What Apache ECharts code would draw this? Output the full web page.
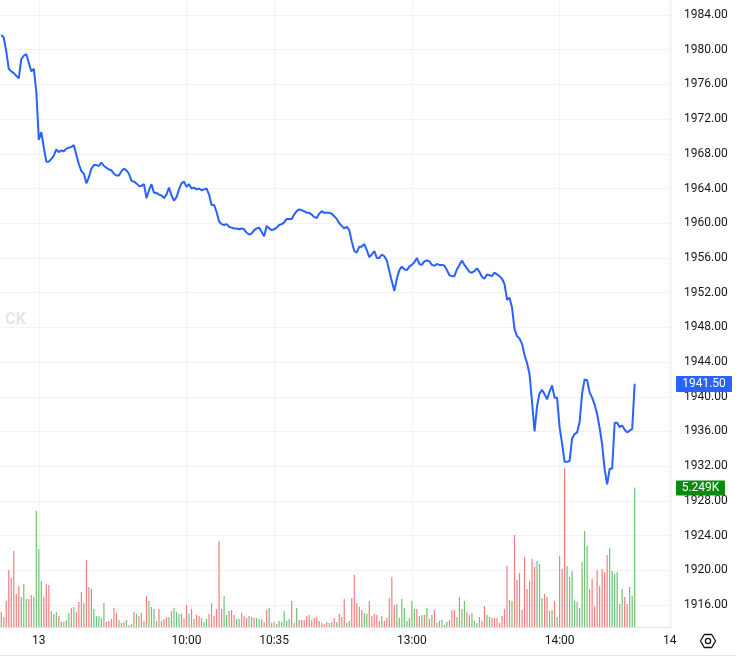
<!DOCTYPE html>
<html><head><meta charset="utf-8">
<script src="https://cdn.jsdelivr.net/npm/echarts@6/dist/echarts.min.js"></script>
<style>html,body{margin:0;padding:0;background:#fff}#c{width:736px;height:657px}</style>
</head><body><div id="c"></div>
<script>
const prices = [
1981.7,1981.4,1979.8,1977.8,1977.5,1977.3,1977.0,1976.7,1978.9,1979.3,
1979.5,1978.5,1977.5,1977.8,1975.2,1969.6,1970.5,1968.7,1967.1,1967.1,
1967.4,1967.8,1968.5,1968.2,1968.4,1968.3,1968.6,1968.7,1968.8,1969.0,
1967.9,1966.8,1966.0,1965.7,1964.6,1965.3,1966.3,1966.7,1966.7,1966.6,
1967.0,1966.6,1966.4,1966.2,1966.1,1965.7,1965.5,1965.5,1966.0,1966.3,
1966.1,1965.7,1964.9,1964.8,1964.6,1964.3,1964.3,1964.5,1962.9,1963.8,
1964.5,1963.5,1963.5,1963.3,1963.2,1962.9,1963.3,1964.1,1963.2,1962.6,
1963.0,1963.9,1964.6,1964.8,1964.2,1964.5,1964.0,1964.1,1963.9,1964.0,
1963.8,1963.9,1964.0,1963.3,1962.1,1962.1,1961.3,1960.2,1959.9,1959.8,
1959.9,1959.6,1959.5,1959.4,1959.4,1959.3,1959.4,1959.3,1958.9,1958.7,
1958.8,1959.2,1959.4,1959.5,1959.0,1958.5,1959.7,1959.4,1959.2,1959.3,
1959.5,1959.8,1959.9,1960.1,1960.5,1960.5,1960.5,1961.0,1961.4,1961.6,
1961.5,1961.4,1961.2,1961.2,1961.0,1960.7,1960.6,1961.1,1961.4,1961.2,
1961.2,1961.2,1961.1,1960.8,1960.5,1960.0,1959.7,1959.4,1959.6,1959.2,
1957.9,1956.8,1956.6,1957.3,1957.3,1957.6,1956.9,1956.1,1956.4,1956.8,
1956.0,1956.0,1956.4,1956.2,1955.7,1954.5,1953.3,1952.2,1953.6,1954.6,
1955.0,1954.7,1954.6,1955.0,1955.2,1955.5,1956.0,1955.3,1955.2,1955.6,
1955.7,1955.6,1955.2,1955.1,1955.3,1955.2,1955.2,1955.1,1954.6,1954.0,
1953.9,1953.9,1954.7,1955.2,1955.7,1955.2,1954.8,1954.4,1954.3,1954.5,
1954.8,1954.4,1953.8,1953.6,1954.1,1954.0,1953.9,1954.3,1954.1,1953.9,
1953.6,1953.0,1951.2,1951.4,1950.3,1947.8,1947.0,1946.7,1946.1,1944.8,
1943.9,1942.6,1939.4,1936.0,1938.9,1940.4,1940.8,1940.3,1939.7,1940.6,
1941.3,1939.9,1939.9,1936.5,1934.6,1932.5,1932.5,1932.6,1935.2,1935.7,
1935.9,1937.1,1940.4,1942.0,1941.9,1940.5,1939.9,1939.1,1938.0,1936.4,
1934.5,1931.6,1929.9,1931.7,1931.7,1937.0,1937.0,1936.5,1936.7,1936.2,
1935.9,1936.1,1936.3,1941.5
];
const volumes = [
565,377,979,2146,1845,2861,1242,1544,1130,1619,
1054,1054,1205,1130,4367,2937,1732,1130,1619,1581,
602,489,565,414,188,188,264,527,715,753,
565,941,1318,904,2523,1506,1431,678,414,414,
339,904,188,226,301,715,527,264,151,188,
264,75,113,565,490,415,527,226,1167,979,
753,678,226,678,226,301,377,377,602,715,
565,490,490,339,829,490,678,301,452,414,
339,188,301,490,904,414,678,3238,678,1167,
452,602,640,452,301,301,527,414,339,414,
377,339,339,301,301,188,640,715,150,188,
113,226,188,602,226,301,979,150,715,264,
264,264,415,452,264,339,377,226,150,113,
188,150,188,339,188,490,377,1054,151,226,
1092,1958,904,753,640,527,490,979,414,490,
452,226,414,226,339,1092,1883,828,866,339,
1054,715,226,339,979,678,678,414,452,452,
715,301,452,640,151,226,264,75,188,264,
640,640,377,1130,678,979,565,452,527,226,
151,377,226,791,452,377,339,339,339,151,
414,678,2297,1017,979,3464,1770,2033,640,2636,
1431,1732,2560,2259,2485,2372,1092,1242,1130,602,
640,979,377,2673,2184,5986,2297,1883,2108,979,
941,715,2447,3614,3050,1431,1807,791,2146,1544,
2184,2071,2711,2974,2108,1995,2071,866,1431,1130,
866,1506,1167,5249
];
const volumeUp = [
0,1,0,0,0,0,0,0,1,1,
1,0,0,1,1,1,1,0,0,0,
1,1,1,0,1,0,1,1,0,1,
0,0,0,1,0,0,1,1,1,1,
1,1,0,0,0,0,0,1,1,0,
1,1,0,0,1,0,0,1,0,1,
1,1,1,0,1,0,0,1,0,1,
1,1,1,0,0,1,0,1,0,0,
1,1,1,0,0,0,0,0,0,1,
1,0,0,0,1,1,0,0,0,1,
1,0,1,1,1,0,0,1,0,0,
1,1,1,1,1,1,0,0,1,0,
0,0,0,0,0,0,0,1,1,0,
0,1,1,0,1,0,0,0,1,1,
0,0,0,1,0,1,1,0,0,0,
0,0,1,0,0,0,0,0,1,1,
1,1,1,1,1,1,0,1,1,0,
1,0,1,0,1,0,1,1,1,0,
0,0,1,1,1,1,0,0,1,1,
1,1,0,0,1,1,0,0,0,0,
0,0,0,1,1,0,0,0,0,0,
0,0,0,0,1,1,1,0,0,1,
1,0,1,0,0,0,1,1,1,1,
1,1,1,1,1,0,0,0,0,0,
0,0,0,1,1,1,1,0,1,0,
0,1,1,1
];
const timeTickIndex = [15, 74, 109, 164, 223, 267];
const timeTickText = ['13', '10:00', '10:35', '13:00', '14:00', '14'];
const slotCount = 268;
const priceMin = 1916, priceMax = 1984, priceStep = 4;

const FONT = 'Roboto, "Noto Sans", sans-serif';
const TXT = '#131722';
const GRID = '#f0f3fa';
const UP = '#70c274', DOWN = '#f77c80';

const cats = Array.from({length: slotCount}, (_, i) => String(i));
const isTick = (i) => timeTickIndex.indexOf(i) >= 0;

const chart = echarts.init(document.getElementById('c'), null, {renderer: 'canvas'});
chart.setOption({
  animation: false,
  backgroundColor: '#ffffff',
  grid: [
    {left: 0, top: 15, width: 671, height: 590},
    {left: 0, top: 0, width: 671, height: 627}
  ],
  xAxis: [
    {type: 'category', gridIndex: 0, data: cats, boundaryGap: true, show: false},
    {type: 'category', gridIndex: 1, data: cats, boundaryGap: true,
     axisLine: {show: true, lineStyle: {color: '#e0e3eb', width: 1}},
     axisTick: {show: false},
     axisLabel: {interval: (i) => isTick(i), formatter: (v, i) => timeTickText[timeTickIndex.indexOf(Number(v))] || '',
       color: TXT, fontSize: 12, fontFamily: FONT, margin: 8, hideOverlap: false},
     splitLine: {show: true, interval: (i) => isTick(i), alignWithLabel: true, lineStyle: {color: GRID, width: 1}}
    }
  ],
  yAxis: [
    {type: 'value', gridIndex: 0, position: 'right', min: priceMin, max: priceMax, interval: priceStep,
     axisLine: {show: false}, axisTick: {show: false},
     axisLabel: {color: TXT, fontSize: 12, fontFamily: FONT, margin: 13, formatter: (v) => v.toFixed(2)},
     splitLine: {show: true, lineStyle: {color: GRID, width: 1}}},
    {type: 'value', gridIndex: 1, min: 0, max: 23610, show: false, splitLine: {show: false}}
  ],
  series: [
    {type: 'bar', xAxisIndex: 1, yAxisIndex: 1, barWidth: 1.2, z: 2,
     data: volumes.map((v, i) => ({value: v, itemStyle: {color: volumeUp[i] ? UP : DOWN}}))},
    {type: 'line', xAxisIndex: 0, yAxisIndex: 0, data: prices, showSymbol: false, symbol: 'none', z: 5,
     lineStyle: {color: '#2962ff', width: 2}}
  ]
});

const lastP = prices[prices.length - 1];
const lastV = volumes[volumes.length - 1];
const py = chart.convertToPixel({yAxisIndex: 0}, lastP);
const vy = chart.convertToPixel({yAxisIndex: 1}, lastV);
const hx = 708, hy = 641, hr = 7.5;
const hex = [];
for (let k = 0; k < 6; k++) { const a = Math.PI / 3 * k; hex.push([hx + hr * Math.cos(a), hy + hr * Math.sin(a)]); }

chart.setOption({
  graphic: [
    {type: 'line', shape: {x1: 671.5, y1: 0, x2: 671.5, y2: 627}, style: {stroke: '#eef0f5', lineWidth: 1}, silent: true},
    {type: 'line', shape: {x1: 0, y1: 655.5, x2: 736, y2: 655.5}, style: {stroke: '#e0e3eb', lineWidth: 1}, silent: true},
    {type: 'text', x: 26, y: 320, style: {text: 'CK', fill: '#dfe6f0', font: 'bold 16px ' + FONT, align: 'right', verticalAlign: 'middle'}, silent: true},
    {type: 'rect', shape: {x: 676, y: Math.round(py) - 8, width: 56, height: 16, r: 1}, style: {fill: '#2962ff'}, z: 10},
    {type: 'text', x: 704, y: Math.round(py), style: {text: lastP.toFixed(2), fill: '#ffffff', font: '12px ' + FONT, align: 'center', verticalAlign: 'middle'}, z: 11},
    {type: 'rect', shape: {x: 676, y: Math.round(vy) - 7.5, width: 49, height: 15, r: 1}, style: {fill: '#0b8a0b'}, z: 10},
    {type: 'text', x: 700.5, y: Math.round(vy), style: {text: (lastV / 1000).toFixed(3) + 'K', fill: '#ffffff', font: '12px ' + FONT, align: 'center', verticalAlign: 'middle'}, z: 11},
    {type: 'polygon', shape: {points: hex}, style: {fill: 'none', stroke: TXT, lineWidth: 1.3, lineJoin: 'round'}},
    {type: 'circle', shape: {cx: hx, cy: hy, r: 2.6}, style: {fill: 'none', stroke: TXT, lineWidth: 1.3}}
  ]
});
</script></body></html>
